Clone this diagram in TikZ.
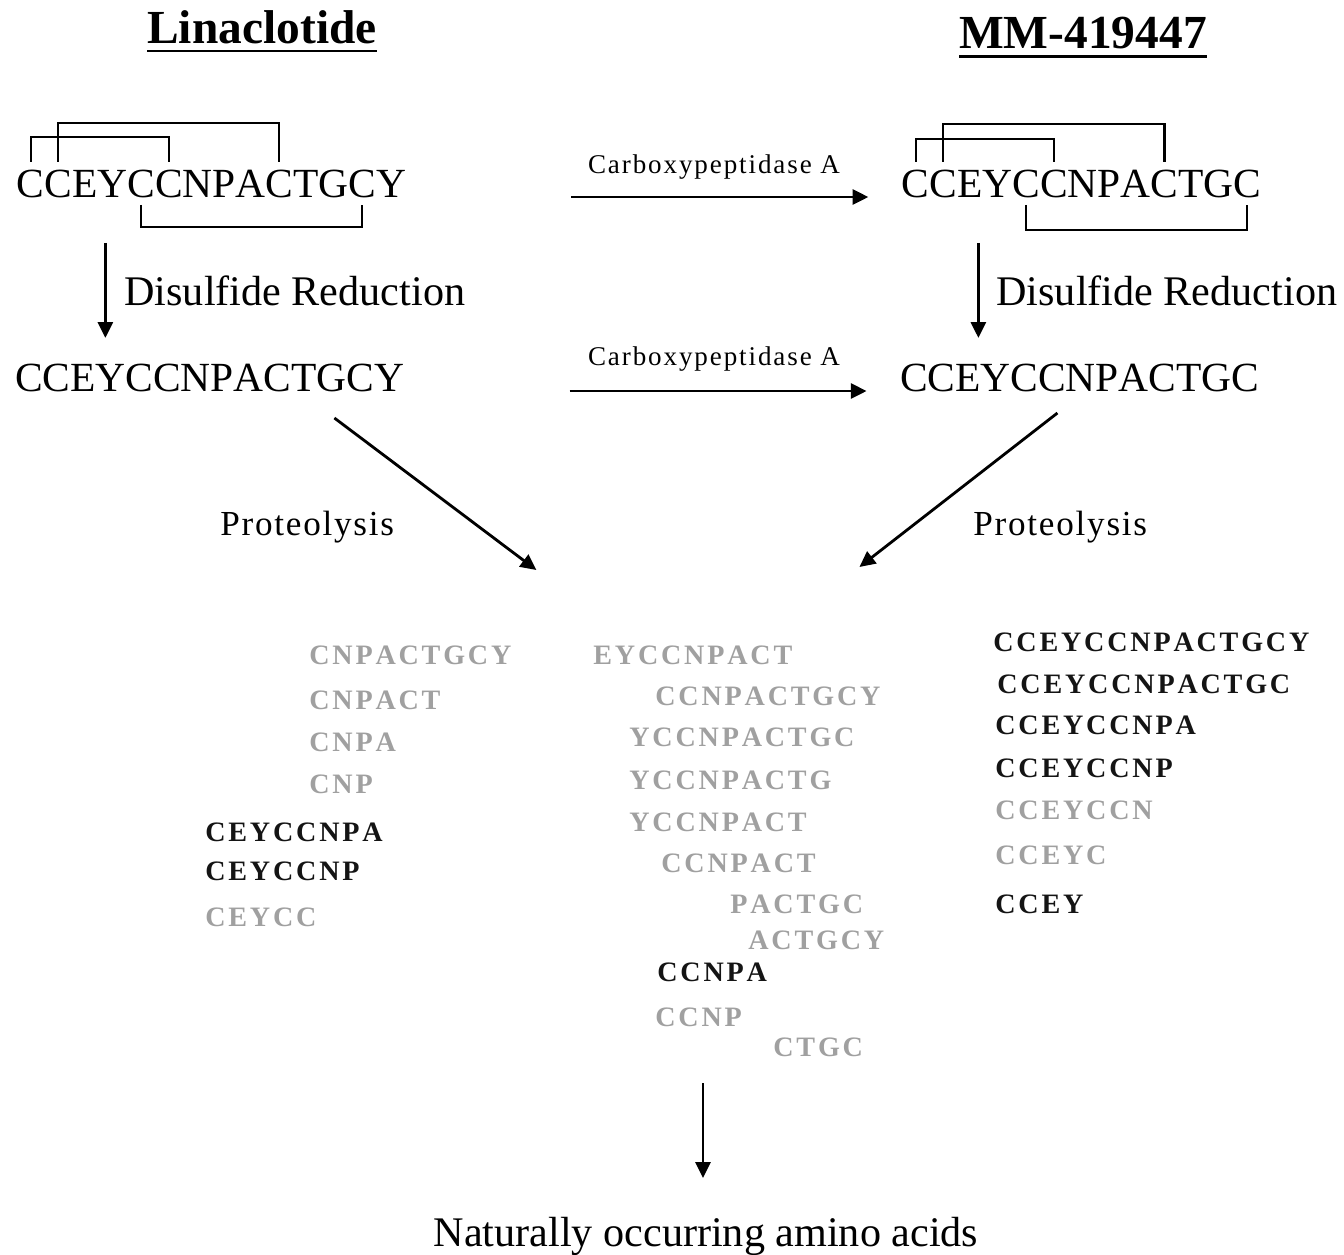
\documentclass[tikz,border=0pt]{standalone}
\usepackage{fontspec}
\setmainfont{Liberation Serif}[Kerning=Off]
\newfontfamily\fragfont{Liberation Serif}[LetterSpace=10,Kerning=Off]
\newfontfamily\enzfont{Liberation Serif}[LetterSpace=7,Kerning=Off]
\newfontfamily\protfont{Liberation Serif}[LetterSpace=5,Kerning=Off]
\usetikzlibrary{arrows.meta,positioning,calc}
\definecolor{FragGray}{HTML}{A0A0A0}
\definecolor{FragBlack}{HTML}{141414}
\tikzset{
  res/.style={font=\fontsize{23.6}{28}\selectfont, inner xsep=0pt,
              inner ysep=4.5pt, outer sep=0pt, text height=15.5pt,
              text depth=0pt, anchor=base west},
  title/.style={font=\bfseries\fontsize{27}{32}\selectfont, inner xsep=0pt,
                outer sep=0pt, anchor=base},
  uline/.style={line width=1.6pt},
  bond/.style={line width=1.2pt},
  arr/.style={line width=1.6pt, -{Triangle[length=9pt,width=8.5pt]}},
  lbl/.style={font=\fontsize{24}{28}\selectfont, inner sep=0pt, anchor=base west},
  enz/.style={font=\enzfont\fontsize{15.4}{18}\selectfont, inner sep=0pt, anchor=base},
  prot/.style={font=\protfont\fontsize{20}{24}\selectfont, inner sep=0pt, anchor=base west},
  frag/.style={font=\fragfont\bfseries\fontsize{16}{19}\selectfont, inner sep=0pt,
               text height=10.6pt, text depth=0pt, anchor=west}
}
\begin{document}
\begin{tikzpicture}[x=0.02cm,y=-0.02cm]
\useasboundingbox (0,0) rectangle (1344,1254);

% titles
\node[title] (tLin) at (262,43) {Linaclotide};
\node[title] (tMM) at (1083,48) {MM-419447};
\draw[uline] ([yshift=-4.5pt]tLin.base west) -- ([yshift=-4.5pt]tLin.base east);
\draw[uline] ([yshift=-5pt]tMM.base west) -- ([yshift=-5pt]tMM.base east);

% folded peptides, one node per residue
\node[res] (a0) at (15,197) {};
\foreach \l [count=\i, remember=\i as \j (initially 0)] in {C,C,E,Y,C,C,N,P,A,C,T,G,C,Y}
  \node[res] (a\i) at (a\j.base east) {\l};
\node[res] (b0) at (900,197) {};
\foreach \l [count=\i, remember=\i as \j (initially 0)] in {C,C,E,Y,C,C,N,P,A,C,T,G,C}
  \node[res] (b\i) at (b\j.base east) {\l};

% disulfide bridges
\draw[bond] (a1.north) -- ++(0,-25) -| (a6.north);
\draw[bond] (a2.north) -- ++(0,-39) -| (a10.north);
\draw[bond] (a5.south) -- ++(0,22) -| (a13.south);
\draw[bond] (b1.north) -- ++(0,-23) -| (b6.north);
\draw[bond] (b2.north) -- ++(0,-38) -| (b10.north);
\draw[bond] (b5.south) -- ++(0,25) -| (b13.south);

% reduced peptides
\node[res] (redA) at (15,391) {CCEYCCNPACTGCY};
\node[res] (redB) at (900,391) {CCEYCCNPACTGC};

\draw[arr] (a4.south) ++(-7,38) -- ++(0,95);
\draw[arr] (b4.south) ++(-19,38) -- ++(0,95);
\node[lbl] (dsA) at (124,305) {Disulfide Reduction};
\node[lbl] (dsB) at (996,305) {Disulfide Reduction};

\draw[arr, shorten <=94pt, shorten >=19pt] (a14.base east) -- (b1.base west);
\draw[arr, shorten <=94pt, shorten >=19pt] (redA.base east) -- (redB.base west);
\node[enz] (cpA) at (714,173) {Carboxypeptidase A};
\node[enz] (cpB) at (714,365) {Carboxypeptidase A};

% proteolysis
\draw[arr] (redA.base east) ++(-70,27) -- ++(202,152);
\draw[arr] (redB.base east) ++(-202,22) -- ++(-198,154);
\node[prot] (prA) at (220,535) {Proteolysis};
\node[prot] (prB) at (973,535) {Proteolysis};

% fragments
\foreach \fx/\fy/\fc/\ft [count=\k] in {
    309/655/Gray/CNPACTGCY, 309/700/Gray/CNPACT, 309/742/Gray/CNPA,
    309/784/Gray/CNP, 205/832/Black/CEYCCNPA, 205/871/Black/CEYCCNP,
    205/917/Gray/CEYCC,
    593/655/Gray/EYCCNPACT, 655/696/Gray/CCNPACTGCY, 629/737/Gray/YCCNPACTGC,
    629/780/Gray/YCCNPACTG, 629/822/Gray/YCCNPACT, 661/863/Gray/CCNPACT,
    730/904/Gray/PACTGC, 748/940/Gray/ACTGCY, 657/972/Black/CCNPA,
    655/1017/Gray/CCNP, 773/1047/Gray/CTGC,
    993/642/Black/CCEYCCNPACTGCY, 997/684/Black/CCEYCCNPACTGC,
    995/725/Black/CCEYCCNPA, 995/768/Black/CCEYCCNP, 995/810/Gray/CCEYCCN,
    995/855/Gray/CCEYC, 995/904/Black/CCEY}
  \node[frag, text=Frag\fc] (f\k) at (\fx,\fy) {\ft};

% end products
\node[lbl, anchor=base] (naa) at (706,1246) {Naturally occurring amino acids};
\draw[arr] (naa.base) ++(-3,-163) -- ++(0,95);
\end{tikzpicture}
\end{document}
